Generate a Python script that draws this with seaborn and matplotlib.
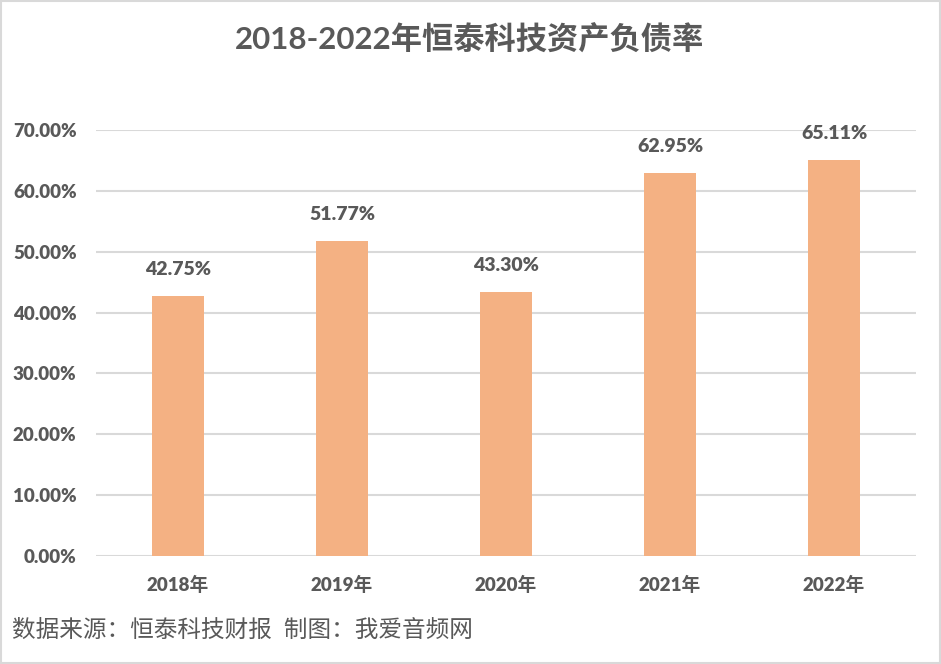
import matplotlib
matplotlib.use("Agg")
import matplotlib.pyplot as plt
import seaborn as sns
import pandas as pd
from matplotlib.patches import Rectangle
from matplotlib.ticker import PercentFormatter

years = ["2018年", "2019年", "2020年", "2021年", "2022年"]
ratios = [42.75, 51.77, 43.30, 62.95, 65.11]
yticks = [0, 10, 20, 30, 40, 50, 60, 70]
title = "2018-2022年恒泰科技资产负债率"
source = "数据来源：恒泰科技财报  制图：我爱音频网"

sns.set_theme(style="white")
plt.rcParams["font.family"] = ["Lato", "Noto Sans CJK SC", "DejaVu Sans"]

TXT = "#595959"
BAR = "#F4B183"
GRID = "#D9D9D9"

df = pd.DataFrame({"year": years, "ratio": ratios})

fig = plt.figure(figsize=(9.41, 6.64), dpi=100)
ax = fig.add_axes([96 / 941, 1 - 556 / 664, 820 / 941, (556 - 130) / 664])

sns.barplot(data=df, x="year", y="ratio", color=BAR, width=0.32,
            saturation=1, linewidth=0, ax=ax, zorder=3)

ax.set_ylim(0, 70)
ax.set_yticks(yticks)
ax.yaxis.set_major_formatter(PercentFormatter(decimals=2))
ax.set_xlim(-0.5, len(years) - 0.5)
ax.grid(axis="y", color=GRID, linewidth=1.5, zorder=0)
ax.set_axisbelow(True)
for s in ax.spines.values():
    s.set_visible(False)
ax.tick_params(axis="both", length=0, colors=TXT, labelsize=13.5)
ax.tick_params(axis="x", pad=14)
ax.tick_params(axis="y", pad=14)
for lab in ax.get_xticklabels() + ax.get_yticklabels():
    lab.set_fontweight("heavy")
ax.set_xlabel("")
ax.set_ylabel("")

for i, v in enumerate(ratios):
    ax.annotate(f"{v:.2f}%", (i, v), xytext=(0, 13), textcoords="offset points",
                ha="center", va="bottom", fontsize=14, fontweight="heavy", color=TXT)

fig.text(470 / 941, 1 - 40 / 664, title, ha="center", va="center",
         fontsize=22.5, fontweight="bold", color=TXT)
fig.text(12 / 941, 1 - 630 / 664, source, ha="left", va="center",
         fontsize=17, color=TXT)

fig.patches.append(Rectangle((0.001, 0.001), 0.998, 0.997, transform=fig.transFigure,
                             fill=False, edgecolor="#D9D9D9", linewidth=1.5))

fig.savefig("out.png", dpi=100)
